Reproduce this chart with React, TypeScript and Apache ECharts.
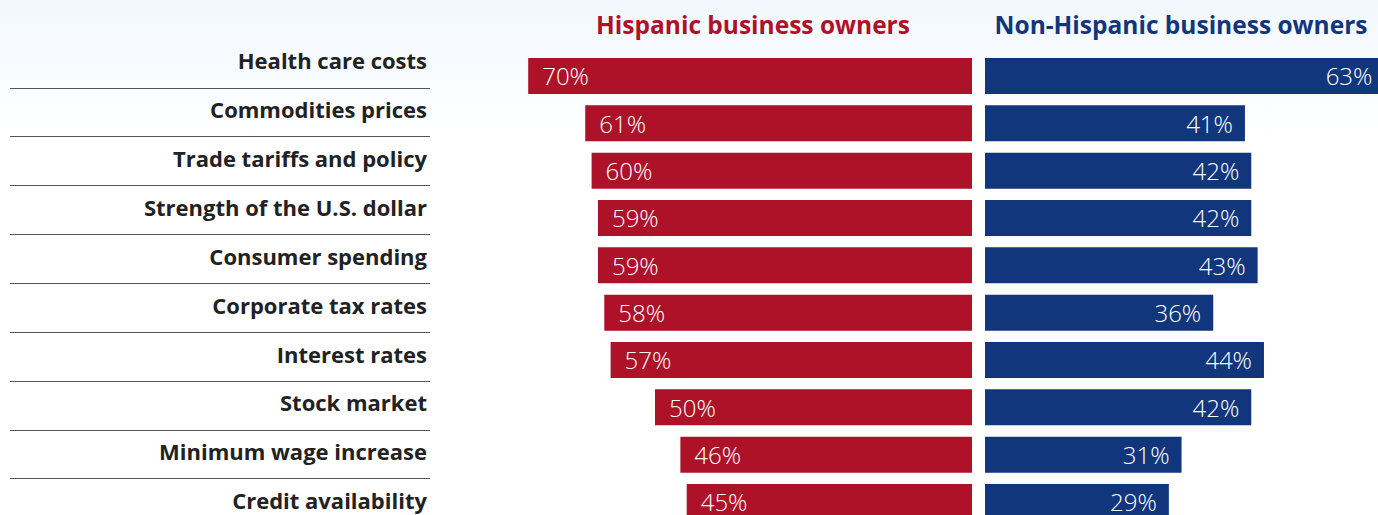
import React, { useEffect, useRef } from "react";
import * as echarts from "echarts";

const categories = [
  "Health care costs",
  "Commodities prices",
  "Trade tariffs and policy",
  "Strength of the U.S. dollar",
  "Consumer spending",
  "Corporate tax rates",
  "Interest rates",
  "Stock market",
  "Minimum wage increase",
  "Credit availability",
];
const hispanic = [70, 61, 60, 59, 59, 58, 57, 50, 46, 45];
const nonHispanic = [63, 41, 42, 42, 43, 36, 44, 42, 31, 29];
const seriesNames = ["Hispanic business owners", "Non-Hispanic business owners"];

const RED = "#ad1229";
const BLUE = "#12367c";
const FONT = "'Open Sans', 'Noto Sans', sans-serif";

export default function App() {
  const ref = useRef<HTMLDivElement>(null);
  useEffect(() => {
    if (!ref.current) return;
    const chart = echarts.init(ref.current, undefined, { renderer: "svg" });
    const barTop = 52.33;
    const barHeight = 473.3;
    chart.setOption({
      animation: false,
      backgroundColor: {
        type: "linear",
        x: 0,
        y: 0,
        x2: 0,
        y2: 1,
        colorStops: [
          { offset: 0, color: "#f2f8fd" },
          { offset: 0.18, color: "#fbfdff" },
          { offset: 0.25, color: "#ffffff" },
          { offset: 1, color: "#ffffff" },
        ],
      },
      title: [
        {
          text: seriesNames[0],
          left: 753,
          top: 9,
          textAlign: "center",
          padding: 0,
          textStyle: { color: RED, fontSize: 24.5, fontWeight: "bold", fontFamily: FONT, lineHeight: 30 },
        },
        {
          text: seriesNames[1],
          left: 1181,
          top: 9,
          textAlign: "center",
          padding: 0,
          textStyle: { color: BLUE, fontSize: 24.5, fontWeight: "bold", fontFamily: FONT, lineHeight: 30 },
        },
      ],
      grid: [
        { left: 10, width: 420, top: 39, height: 488.5 },
        { left: 338, width: 634, top: barTop, height: barHeight },
        { left: 985, width: 634, top: barTop, height: barHeight },
      ],
      xAxis: [
        { type: "value", gridIndex: 0, min: 0, max: 1, show: false },
        { type: "value", gridIndex: 1, min: 0, max: 100, inverse: true, show: false },
        { type: "value", gridIndex: 2, min: 0, max: 100, show: false },
      ],
      yAxis: [
        {
          type: "category",
          gridIndex: 0,
          data: categories,
          inverse: true,
          position: "right",
          axisLine: { show: false },
          axisTick: { show: false },
          axisLabel: {
            inside: true,
            margin: 3,
            interval: 0,
            formatter: (v: string) => `{a|${v}}`,
            rich: {
              a: {
                color: "#222222",
                fontSize: 22,
                fontWeight: "bold",
                fontFamily: FONT,
                padding: [0, 0, 6, 0],
              },
            },
          },
          splitLine: {
            show: true,
            interval: 0,
            showMinLine: false,
            lineStyle: { color: "#555555", width: 1 },
          },
        },
        { type: "category", gridIndex: 1, data: categories, inverse: true, show: false },
        { type: "category", gridIndex: 2, data: categories, inverse: true, show: false },
      ],
      series: [
        {
          name: seriesNames[0],
          type: "bar",
          xAxisIndex: 1,
          yAxisIndex: 1,
          data: hispanic,
          barWidth: 36,
          silent: true,
          itemStyle: { color: RED },
          label: {
            show: true,
            position: "insideLeft",
            distance: 14,
            formatter: "{c}%",
            color: "#ffffff",
            fontSize: 24,
            fontWeight: 300,
            fontFamily: FONT,
          },
        },
        {
          name: seriesNames[1],
          type: "bar",
          xAxisIndex: 2,
          yAxisIndex: 2,
          data: nonHispanic,
          barWidth: 36,
          silent: true,
          itemStyle: { color: BLUE },
          label: {
            show: true,
            position: "insideRight",
            distance: 12,
            formatter: "{c}%",
            color: "#ffffff",
            fontSize: 24,
            fontWeight: 300,
            fontFamily: FONT,
          },
        },
      ],
    });
    return () => chart.dispose();
  }, []);
  return (
    <div
      ref={ref}
      style={{ position: "fixed", left: 0, top: 0, width: 1700, height: 560 }}
    />
  );
}
